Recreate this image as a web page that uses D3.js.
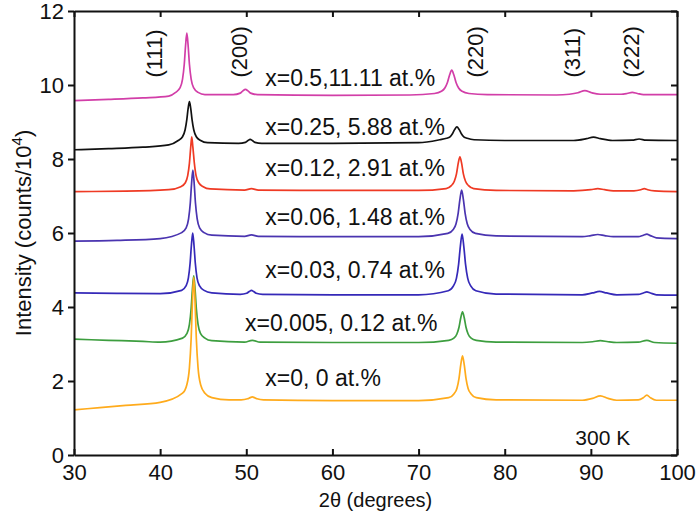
<!DOCTYPE html>
<html>
<head>
<meta charset="utf-8">
<script src="https://cdn.jsdelivr.net/npm/d3@7"></script>
<style>
  body { margin: 0; background: #fff; }
  svg text { font-family: 'Liberation Sans', Arial, sans-serif; fill: #111; }
</style>
</head>
<body>
<div class="chart"></div>
<script>
const width = 700;
const height = 518;
const margin = { top: 11, right: 23, bottom: 63, left: 74 };

// 2theta (deg), intensity (counts/10^4)
const x0 = [[30,1.22],[33,1.28],[36,1.34],[40,1.42],[42.6,1.67],[43.1,1.9],[43.4,2.36],[43.6,3.15],[43.75,4.14],[43.9,4.8],[44.05,4.14],[44.2,3.15],[44.4,2.36],[44.7,1.9],[45.2,1.67],[46,1.55],[48,1.49],[49.4,1.49],[50.15,1.52],[50.45,1.55],[50.7,1.57],[50.95,1.55],[51.25,1.52],[52,1.49],[60,1.47],[70,1.47],[73.5,1.55],[74.1,1.65],[74.45,1.8],[74.7,2.08],[74.9,2.44],[75.1,2.68],[75.3,2.44],[75.5,2.08],[75.75,1.8],[76.1,1.65],[76.7,1.55],[79,1.49],[89,1.48],[90.2,1.53],[91.1,1.6],[92,1.53],[93,1.48],[95.5,1.49],[96.1,1.55],[96.5,1.62],[96.9,1.55],[97.6,1.48],[100,1.48]];
const x0005 = [[30,3.13],[34,3.1],[38,3.07],[40,3.05],[42.6,3.16],[43.1,3.28],[43.4,3.53],[43.6,3.96],[43.75,4.49],[43.9,4.84],[44.05,4.49],[44.2,3.96],[44.4,3.53],[44.7,3.28],[45.2,3.16],[46,3.09],[49.8,3.05],[50.7,3.1],[51.6,3.05],[60,3.04],[70,3.04],[73.5,3.1],[74.1,3.16],[74.45,3.27],[74.7,3.46],[74.9,3.71],[75.1,3.87],[75.3,3.71],[75.5,3.46],[75.75,3.27],[76.1,3.16],[76.7,3.1],[79,3.05],[89,3.04],[90.2,3.06],[91.1,3.09],[92,3.06],[93,3.04],[95.5,3.05],[96.5,3.1],[97.4,3.04],[100,3.02]];
const x003 = [[30,4.38],[35,4.37],[40,4.36],[42.5,4.45],[43.0,4.57],[43.28,4.79],[43.48,5.19],[43.63,5.67],[43.78,6.0],[43.93,5.67],[44.08,5.19],[44.28,4.79],[44.58,4.57],[45.1,4.45],[46,4.38],[49.3,4.34],[50.05,4.37],[50.35,4.42],[50.6,4.45],[50.85,4.42],[51.15,4.37],[51.9,4.34],[60,4.33],[70,4.33],[73.45,4.44],[74.05,4.57],[74.4,4.78],[74.65,5.16],[74.85,5.64],[75.05,5.97],[75.25,5.64],[75.45,5.16],[75.7,4.78],[76.05,4.57],[76.65,4.44],[79,4.35],[89,4.33],[90.2,4.38],[91.0,4.42],[91.8,4.38],[93,4.33],[95.5,4.34],[96.1,4.38],[96.5,4.41],[96.9,4.38],[97.6,4.33],[100,4.32]];
const x006 = [[30,5.78],[35,5.8],[40,5.85],[42.5,6.01],[43.0,6.13],[43.3,6.38],[43.5,6.81],[43.65,7.34],[43.8,7.7],[43.95,7.34],[44.1,6.81],[44.3,6.38],[44.6,6.13],[45.1,6.01],[46,5.94],[49.8,5.91],[50.6,5.95],[51.4,5.91],[60,5.9],[70,5.9],[73.4,5.99],[74.0,6.09],[74.35,6.25],[74.6,6.54],[74.8,6.91],[75.0,7.16],[75.2,6.91],[75.4,6.54],[75.65,6.25],[76.0,6.09],[76.6,5.99],[79,5.92],[89,5.9],[90.0,5.93],[90.8,5.96],[91.6,5.93],[92.6,5.9],[95.5,5.9],[96.1,5.94],[96.5,5.97],[96.9,5.93],[97.6,5.87],[100,5.85]];
const x012 = [[30,7.12],[36,7.13],[41,7.17],[42.4,7.25],[42.9,7.35],[43.2,7.55],[43.4,7.89],[43.55,8.32],[43.67,8.6],[43.8,8.32],[43.97,7.89],[44.17,7.55],[44.5,7.35],[45,7.25],[45.8,7.19],[49.8,7.16],[50.6,7.2],[51.4,7.16],[60,7.15],[70,7.15],[73.2,7.2],[73.8,7.28],[74.15,7.4],[74.4,7.6],[74.6,7.88],[74.8,8.06],[75.0,7.88],[75.2,7.6],[75.45,7.4],[75.8,7.28],[76.4,7.2],[79,7.15],[88,7.14],[90.0,7.17],[90.8,7.2],[91.6,7.17],[92.6,7.14],[95,7.14],[95.8,7.17],[96.2,7.2],[96.6,7.17],[97.4,7.14],[100,7.12]];
const x025 = [[30,8.25],[34,8.28],[38,8.32],[41,8.38],[42.1,8.5],[42.6,8.6],[42.9,8.79],[43.1,9.07],[43.25,9.37],[43.4,9.55],[43.55,9.37],[43.7,9.07],[43.9,8.79],[44.2,8.6],[44.7,8.5],[45.5,8.44],[49.1,8.42],[49.9,8.45],[50.2,8.5],[50.45,8.53],[50.7,8.5],[51.0,8.45],[51.8,8.42],[60,8.42],[70,8.44],[72.45,8.52],[73.25,8.56],[73.65,8.6],[73.95,8.69],[74.2,8.8],[74.45,8.87],[74.7,8.8],[74.95,8.69],[75.25,8.6],[75.65,8.56],[76.45,8.52],[80,8.5],[88,8.5],[89.5,8.55],[90.3,8.59],[91.1,8.55],[92.5,8.5],[94.8,8.51],[95.6,8.54],[96.4,8.51],[100,8.5]];
const x05 = [[30,9.58],[34,9.61],[38,9.65],[41,9.7],[41.8,9.8],[42.3,9.92],[42.6,10.16],[42.8,10.56],[42.95,11.06],[43.1,11.4],[43.25,11.06],[43.4,10.56],[43.6,10.16],[43.9,9.92],[44.4,9.8],[45.2,9.74],[48.5,9.74],[49.3,9.78],[49.6,9.84],[49.9,9.88],[50.2,9.84],[50.5,9.78],[51.3,9.74],[60,9.72],[69,9.73],[71.85,9.77],[72.65,9.83],[73.05,9.92],[73.35,10.07],[73.6,10.27],[73.85,10.4],[74.1,10.27],[74.35,10.07],[74.65,9.92],[75.05,9.83],[75.85,9.77],[78,9.74],[86,9.73],[87.5,9.75],[88.5,9.79],[89.3,9.85],[90.1,9.79],[91.1,9.75],[93.5,9.75],[94.2,9.77],[94.8,9.8],[95.4,9.77],[96.1,9.74],[100,9.74]];

// drawn top to bottom, so lower curves sit on top
const series = [
  { name: 'x=0.5,11.11 at.%', values: x05, color: '#d23ea8', lx: 52.2, ly: 9.97 },
  { name: 'x=0.25, 5.88 at.%', values: x025, color: '#111111', lx: 52.2, ly: 8.65 },
  { name: 'x=0.12, 2.91 at.%', values: x012, color: '#ef3a24', lx: 52.2, ly: 7.54 },
  { name: 'x=0.06, 1.48 at.%', values: x006, color: '#4a34b0', lx: 52.2, ly: 6.22 },
  { name: 'x=0.03, 0.74 at.%', values: x003, color: '#3529b8', lx: 52.2, ly: 4.78 },
  { name: 'x=0.005, 0.12 at.%', values: x0005, color: '#3d9e3f', lx: 49.85, ly: 3.35 },
  { name: 'x=0, 0 at.%', values: x0, color: '#ffab1c', lx: 52.2, ly: 1.86 },
];

const reflections = ['(111)', '(200)', '(220)', '(311)', '(222)'];
const reflectionPos = [40.2, 50.05, 77.45, 88.7, 95.55];

const xTicks = [30, 40, 50, 60, 70, 80, 90, 100];
const yTicks = [0, 2, 4, 6, 8, 10, 12];

const svg = d3
  .select('.chart')
  .append('svg')
  .attr('width', width)
  .attr('height', height);

const x = d3
  .scaleLinear()
  .domain([30, 100])
  .range([margin.left, width - margin.right]);

const y = d3
  .scaleLinear()
  .domain([0, 12])
  .range([height - margin.bottom, margin.top]);

const line = d3
  .line()
  .curve(d3.curveMonotoneX)
  .x((d) => x(d[0]))
  .y((d) => y(d[1]));

// curves
svg
  .append('g')
  .selectAll('path')
  .data(series)
  .join('path')
  .attr('fill', 'none')
  .attr('stroke', (d) => d.color)
  .attr('stroke-width', 1.7)
  .attr('stroke-linejoin', 'round')
  .attr('d', (d) => line(d.values));

// composition labels
svg
  .append('g')
  .selectAll('text')
  .data(series)
  .join('text')
  .attr('x', (d) => x(d.lx))
  .attr('y', (d) => y(d.ly))
  .attr('font-size', 23)
  .text((d) => d.name);

// reflection labels (rotated, baseline on the right)
svg
  .append('g')
  .selectAll('text')
  .data(reflections)
  .join('text')
  .attr('transform', (d, i) => `translate(${x(reflectionPos[i])},${y(10.2)}) rotate(-90)`)
  .attr('font-size', 22)
  .text((d) => d);

svg
  .append('text')
  .attr('x', x(88.2))
  .attr('y', y(0.27))
  .attr('font-size', 21)
  .text('300 K');

// axes
const tick = 6;
svg
  .append('g')
  .attr('transform', `translate(0,${y(0)})`)
  .call(d3.axisBottom(x).tickValues(xTicks).tickSizeInner(-tick).tickSizeOuter(0).tickPadding(9))
  .call((g) => g.selectAll('text').attr('font-size', 22).attr('fill', '#111'));

svg
  .append('g')
  .attr('transform', `translate(0,${y(12)})`)
  .call(d3.axisTop(x).tickValues(xTicks).tickSizeInner(-tick).tickSizeOuter(0).tickFormat(''));

svg
  .append('g')
  .attr('transform', `translate(${x(30)},0)`)
  .call(d3.axisLeft(y).tickValues(yTicks).tickSizeInner(tick).tickSizeOuter(0).tickPadding(4))
  .call((g) => g.selectAll('text').attr('font-size', 22).attr('fill', '#111'));

svg
  .append('g')
  .attr('transform', `translate(${x(100)},0)`)
  .call(d3.axisRight(y).tickValues(yTicks).tickSizeInner(-tick).tickSizeOuter(0).tickFormat(''));

svg.selectAll('.domain').attr('stroke', '#111').attr('stroke-width', 2);
svg.selectAll('.tick line').attr('stroke', '#111').attr('stroke-width', 2);

// axis titles
svg
  .append('text')
  .attr('x', (x(30) + x(100)) / 2)
  .attr('y', 507)
  .attr('text-anchor', 'middle')
  .attr('font-size', 20)
  .text('2θ (degrees)');

const yTitle = svg
  .append('text')
  .attr('transform', `translate(31,${(y(0) + y(12)) / 2}) rotate(-90)`)
  .attr('text-anchor', 'middle')
  .attr('font-size', 22);
yTitle.append('tspan').text('Intensity (counts/10');
yTitle.append('tspan').attr('font-size', 15).attr('dy', -9).text('4');
yTitle.append('tspan').attr('dy', 9).text(')');
</script>
</body>
</html>
